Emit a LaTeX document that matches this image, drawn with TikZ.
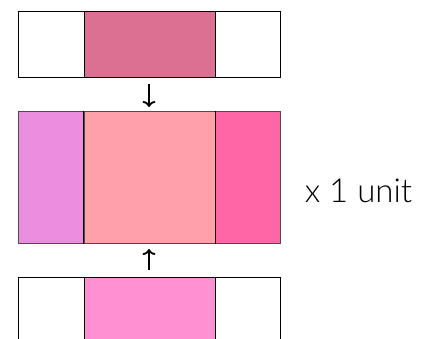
\documentclass[tikz,border=0pt]{standalone}
\usepackage{fontspec}
\setmainfont{Lato}[UprightFont={* Light}]
\usetikzlibrary{arrows.meta}
\definecolor{topmid}{HTML}{DB7093}
\definecolor{midleft}{HTML}{EC8EE0}
\definecolor{midcent}{HTML}{FFA0AA}
\definecolor{midright}{HTML}{FF66A6}
\definecolor{botmid}{HTML}{FF90D2}
\begin{document}
\begin{tikzpicture}[x=1pt,y=-1pt,
  cell/.style={draw=black,line width=1.3pt,rectangle,inner sep=0pt,anchor=north west},
  flow/.style={-{To[length=6pt,width=13pt,line width=1.8pt]},line width=1.8pt}]
\useasboundingbox (0,0) rectangle (422,339);
\begin{scope}
\clip (0,0) rectangle (422,339);
% top row
\node[cell,minimum width=65.5pt,minimum height=66pt] (tl) at (18,11) {};
\node[cell,fill=topmid,minimum width=131pt,minimum height=66pt] (tm) at (83.5,11) {};
\node[cell,minimum width=65.5pt,minimum height=66pt] (tr) at (214.5,11) {};
% middle row
\node[cell,fill=midleft,draw=black!70,minimum width=65.5pt,minimum height=132pt] (ml) at (18,111) {};
\node[cell,fill=midcent,draw=black!70,minimum width=131pt,minimum height=132pt] (mm) at (83.5,111) {};
\node[cell,fill=midright,draw=black!70,minimum width=65.5pt,minimum height=132pt] (mr) at (214.5,111) {};
\draw[line width=1.3pt] (mm.north west) -- (mm.south west) (mm.north east) -- (mm.south east);
% bottom row
\node[cell,minimum width=65.5pt,minimum height=66pt] (bl) at (18,277) {};
\node[cell,fill=botmid,minimum width=131pt,minimum height=66pt] (bm) at (83.5,277) {};
\node[cell,minimum width=65.5pt,minimum height=66pt] (br) at (214.5,277) {};
\end{scope}
\coordinate (a1s) at (149,84);
\coordinate (a1e) at (149,107);
\coordinate (a2s) at (149,270);
\coordinate (a2e) at (149,249);
\draw[flow] (a1s) -- (a1e);
\draw[flow] (a2s) -- (a2e);
\node[font=\fontsize{33}{35}\selectfont,inner sep=0pt] (lab) at (358.5,191) {x 1 unit};
\end{tikzpicture}
\end{document}
